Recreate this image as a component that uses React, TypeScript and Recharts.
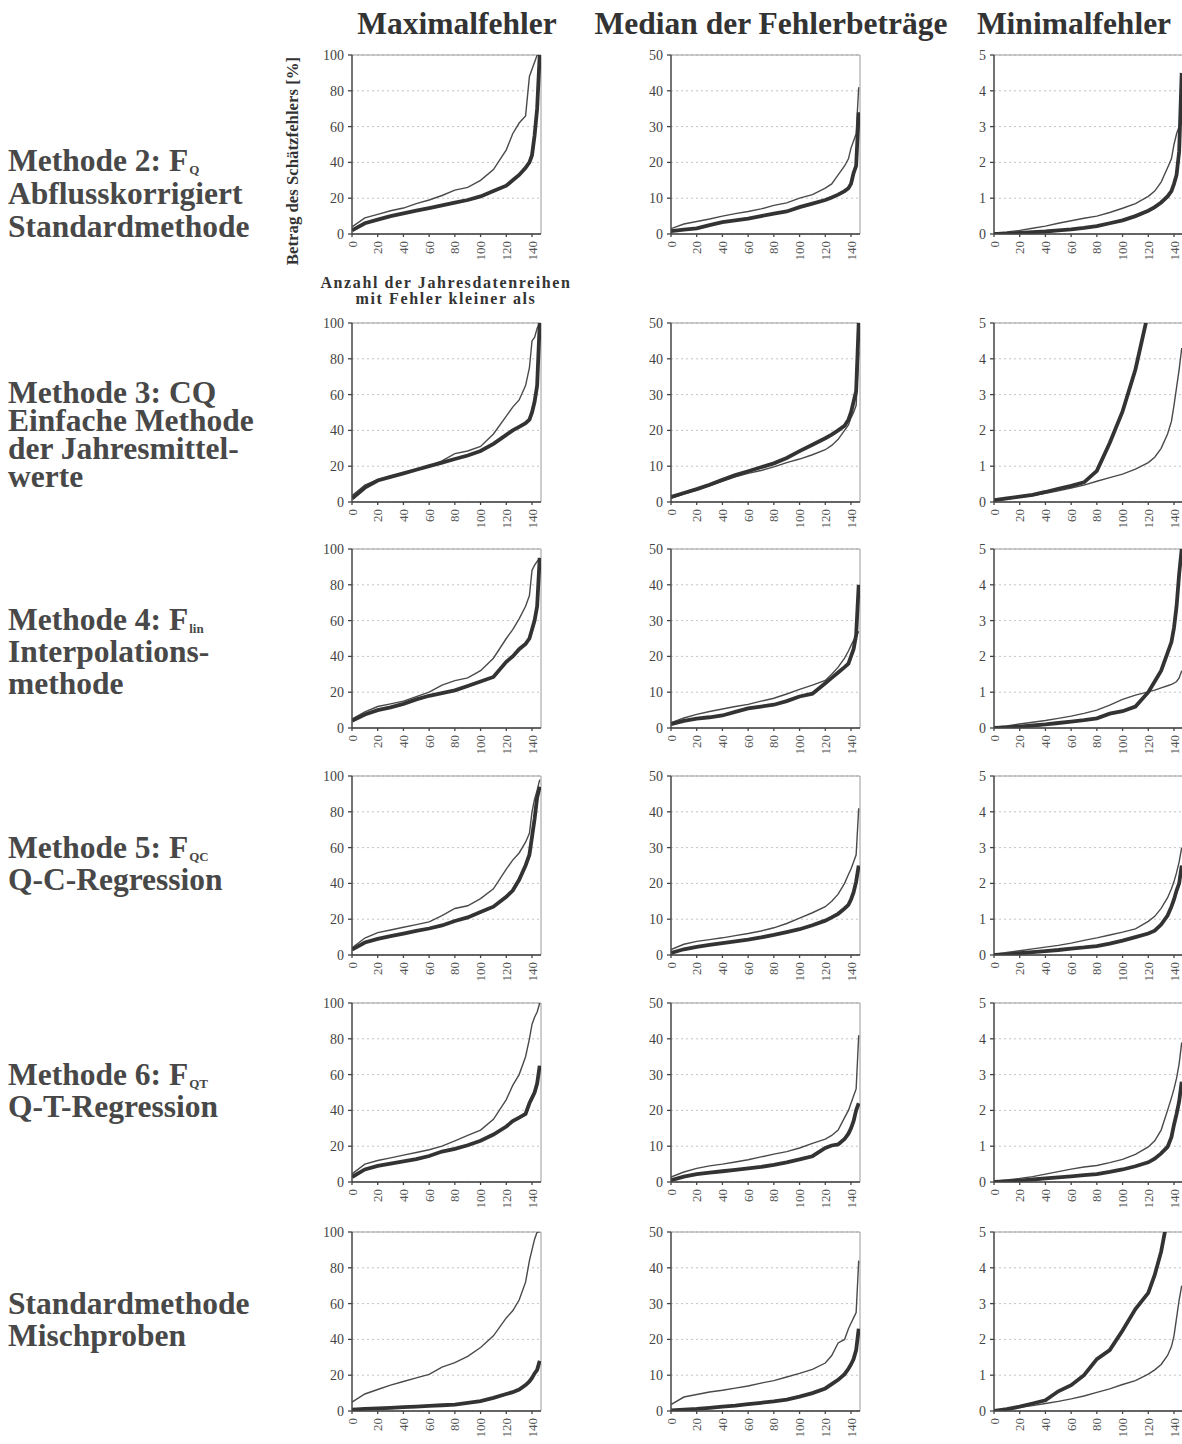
import { LineChart, Line, XAxis, YAxis, CartesianGrid, ReferenceArea } from "recharts";

const serif = "'Liberation Serif', 'Times New Roman', serif";

// x positions (number of annual data series) at which the curves were read
const positions = [0, 10, 20, 30, 40, 50, 60, 70, 80, 90, 100, 110, 120, 125, 130, 135, 138, 140, 142, 144, 146];
const xTicks = [0, 20, 40, 60, 80, 100, 120, 140];

const columnTitles = ["Maximalfehler", "Median der Fehlerbeträge", "Minimalfehler"];
const maxTicks = [0, 20, 40, 60, 80, 100];
const medianTicks = [0, 10, 20, 30, 40, 50];
const minTicks = [0, 1, 2, 3, 4, 5];

// Methode 2: F_Q
const m2MaxThin = [4, 9, 11, 13, 14.5, 17, 19, 21.5, 24.5, 26, 30, 36, 47, 56, 62, 66, 88, 92, 96, 100, 100];
const m2MaxThick = [2, 6, 8, 10, 11.5, 13, 14.5, 16, 17.5, 19, 21, 24, 27, 30, 33, 37, 40, 44, 55, 70, 100];
const m2MedThin = [1.5, 2.8, 3.5, 4.2, 5, 5.7, 6.3, 7, 8, 8.7, 10, 11, 12.8, 14, 16.5, 19, 21, 24, 26, 28, 41];
const m2MedThick = [0.8, 1.2, 1.6, 2.5, 3.3, 3.8, 4.3, 5, 5.7, 6.3, 7.5, 8.5, 9.5, 10.2, 11, 12, 12.8, 14, 17, 19, 34];
const m2MinThin = [0.03, 0.06, 0.1, 0.16, 0.22, 0.3, 0.37, 0.44, 0.5, 0.6, 0.72, 0.85, 1.05, 1.2, 1.45, 1.85, 2.1, 2.5, 2.8, 3.0, 3.1];
const m2MinThick = [0, 0.01, 0.03, 0.05, 0.07, 0.1, 0.13, 0.17, 0.22, 0.3, 0.38, 0.5, 0.65, 0.75, 0.88, 1.05, 1.2, 1.4, 1.65, 2.3, 4.5];

// Methode 3: CQ
const m3MaxThin = [3.6, 9.5, 12.5, 14.5, 16, 18, 20, 23, 27, 28.5, 31, 38, 48, 53, 57, 65, 75, 90, 92, 97, 100];
const m3MaxThick = [2, 8, 12, 14, 16, 18, 20, 22, 24, 26, 28.5, 32.5, 37.5, 40, 42, 44, 46, 50, 56, 65, 100];
const m3MedThin = [1, 2.2, 3.3, 4.5, 5.8, 7, 8, 8.8, 9.8, 11, 12, 13.2, 14.6, 15.8, 17.5, 20, 21.5, 23.5, 25, 27, 42];
const m3MedThick = [1.4, 2.5, 3.6, 4.8, 6.2, 7.5, 8.6, 9.7, 10.8, 12.3, 14.2, 16, 17.8, 18.8, 20, 21.3, 23, 25, 28, 31, 50];
const m3MinThin = [0.03, 0.08, 0.13, 0.18, 0.24, 0.31, 0.39, 0.47, 0.58, 0.68, 0.78, 0.92, 1.1, 1.25, 1.5, 1.9, 2.25, 2.7, 3.2, 3.7, 4.3];
const m3MinThick = [0.05, 0.1, 0.15, 0.2, 0.28, 0.37, 0.45, 0.55, 0.87, 1.65, 2.53, 3.7, 5.3, 6.2, 7.2, 8.2, 8.8, 9.2, 9.6, 10, 10.5];

// Methode 4: F_lin
const m4MaxThin = [5, 9, 12, 13.5, 15, 17.5, 20, 24, 26.5, 28, 32, 39, 50, 55, 61, 68, 74, 88, 91, 93, 95];
const m4MaxThick = [4, 7.5, 10, 11.5, 13.5, 16, 18, 19.5, 21, 23.5, 26, 28.5, 37, 40, 44, 47, 50, 55, 60, 68, 95];
const m4MedThin = [1.5, 2.8, 3.8, 4.6, 5.3, 6, 6.6, 7.5, 8.3, 9.5, 10.8, 12, 13.3, 15, 17, 19.5, 21.5, 23, 24.5, 25.5, 27];
const m4MedThick = [1.1, 2, 2.6, 3, 3.5, 4.5, 5.5, 6, 6.5, 7.5, 8.8, 9.6, 12.5, 14, 15.5, 17, 18, 20, 22, 26, 40];
const m4MinThin = [0.02, 0.06, 0.11, 0.16, 0.21, 0.27, 0.33, 0.41, 0.5, 0.64, 0.8, 0.92, 1.01, 1.06, 1.12, 1.18, 1.22, 1.25, 1.3, 1.4, 1.6];
const m4MinThick = [0, 0.02, 0.04, 0.07, 0.1, 0.14, 0.18, 0.22, 0.27, 0.4, 0.47, 0.6, 1.0, 1.3, 1.6, 2.1, 2.4, 2.8, 3.4, 4.3, 5];

// Methode 5: F_QC
const m5MaxThin = [4, 9.5, 12.5, 14, 15.5, 17, 18.5, 22, 26, 27.5, 31.5, 37, 48, 53, 57, 63, 68, 80, 87, 92, 98];
const m5MaxThick = [3, 7, 9, 10.5, 12, 13.5, 14.8, 16.5, 19, 21, 24, 27, 32.5, 36, 42, 50, 56, 66, 76, 88, 94];
const m5MedThin = [1.5, 3, 3.8, 4.3, 4.8, 5.4, 6, 6.7, 7.6, 8.8, 10.3, 11.8, 13.5, 15, 17, 20, 22.5, 24, 26, 28, 41];
const m5MedThick = [0.6, 1.6, 2.3, 2.8, 3.3, 3.8, 4.3, 4.9, 5.6, 6.4, 7.2, 8.3, 9.6, 10.5, 11.5, 13, 14, 15.5, 17.5, 20.5, 25];
const m5MinThin = [0.02, 0.07, 0.12, 0.17, 0.22, 0.27, 0.33, 0.41, 0.48, 0.56, 0.64, 0.73, 0.94, 1.08, 1.3, 1.6, 1.85, 2.05, 2.3, 2.6, 3.0];
const m5MinThick = [0, 0.02, 0.05, 0.08, 0.11, 0.14, 0.18, 0.21, 0.25, 0.32, 0.4, 0.5, 0.6, 0.68, 0.85, 1.1, 1.35, 1.55, 1.8, 2.0, 2.5];

// Methode 6: F_QT
const m6MaxThin = [4.5, 10, 12, 13.5, 15, 16.5, 18, 20, 23, 26, 29, 35, 46, 54, 60, 70, 80, 88, 92, 95, 100];
const m6MaxThick = [2.8, 7, 9, 10.3, 11.5, 12.8, 14.5, 17, 18.5, 20.5, 23, 26.5, 31, 34, 36, 38, 44, 47, 50, 55, 65];
const m6MedThin = [1.4, 2.8, 3.8, 4.5, 5, 5.6, 6.2, 7, 7.8, 8.5, 9.5, 10.8, 12, 13, 14.5, 18, 20, 22, 24, 26, 41];
const m6MedThick = [0.5, 1.5, 2.2, 2.6, 3, 3.4, 3.8, 4.2, 4.8, 5.5, 6.3, 7.2, 9.5, 10.2, 10.5, 12, 13.5, 15, 17, 20, 22];
const m6MinThin = [0.02, 0.06, 0.1, 0.15, 0.22, 0.29, 0.36, 0.42, 0.46, 0.54, 0.63, 0.77, 0.98, 1.15, 1.45, 2.0, 2.35, 2.6, 2.9, 3.3, 3.9];
const m6MinThick = [0, 0.02, 0.04, 0.07, 0.1, 0.13, 0.16, 0.19, 0.22, 0.28, 0.35, 0.44, 0.55, 0.65, 0.8, 0.98, 1.25, 1.6, 1.9, 2.25, 2.8];

// Standardmethode Mischproben
const mixMaxThin = [5, 9.5, 12, 14.5, 16.5, 18.5, 20.5, 24.5, 27, 30.5, 35.5, 42, 52, 56, 62, 72, 84, 90, 96, 100, 100];
const mixMaxThick = [0.8, 1.2, 1.5, 1.8, 2.2, 2.5, 2.9, 3.2, 3.6, 4.5, 5.5, 7.3, 9.5, 10.5, 12, 14.5, 16.5, 18.5, 21, 23, 28];
const mixMedThin = [1.8, 3.9, 4.6, 5.3, 5.8, 6.4, 7, 7.8, 8.5, 9.5, 10.5, 11.6, 13.4, 15.5, 19, 20, 23, 24.5, 26, 27.5, 42];
const mixMedThick = [0.2, 0.4, 0.6, 0.9, 1.2, 1.5, 1.9, 2.3, 2.7, 3.2, 4, 5, 6.3, 7.5, 8.7, 10.3, 11.8, 13, 14.5, 17, 23];
const mixMinThin = [0, 0.05, 0.1, 0.15, 0.21, 0.27, 0.34, 0.42, 0.52, 0.62, 0.74, 0.85, 1.03, 1.15, 1.3, 1.55, 1.8, 2.1, 2.6, 3.1, 3.5];
const mixMinThick = [0, 0.05, 0.12, 0.21, 0.3, 0.55, 0.72, 1.0, 1.45, 1.7, 2.25, 2.85, 3.3, 3.8, 4.45, 5.4, 5.8, 6, 6.2, 6.4, 6.6];

const rows = [
  { lines: ["Methode 2: F", "Abflusskorrigiert", "Standardmethode"], sub: "Q", lh: 33, series: [[m2MaxThin, m2MaxThick], [m2MedThin, m2MedThick], [m2MinThin, m2MinThick]] },
  { lines: ["Methode 3: CQ", "Einfache Methode", "der Jahresmittel-", "werte"], sub: "", lh: 28, series: [[m3MaxThin, m3MaxThick], [m3MedThin, m3MedThick], [m3MinThin, m3MinThick]] },
  { lines: ["Methode 4:  F", "Interpolations-", "methode"], sub: "lin", lh: 32, series: [[m4MaxThin, m4MaxThick], [m4MedThin, m4MedThick], [m4MinThin, m4MinThick]] },
  { lines: ["Methode 5:  F", "Q-C-Regression"], sub: "QC", lh: 32, series: [[m5MaxThin, m5MaxThick], [m5MedThin, m5MedThick], [m5MinThin, m5MinThick]] },
  { lines: ["Methode 6:  F", "Q-T-Regression"], sub: "QT", lh: 32, series: [[m6MaxThin, m6MaxThick], [m6MedThin, m6MedThick], [m6MinThin, m6MinThick]] },
  { lines: ["Standardmethode", "Mischproben"], sub: "", lh: 32, series: [[mixMaxThin, mixMaxThick], [mixMedThin, mixMedThick], [mixMinThin, mixMinThick]] },
];

const yTicksByCol = [maxTicks, medianTicks, minTicks];

// layout
const plotLeft = [352, 671, 994];
const plotTop = [55, 323, 549, 776, 1003, 1232];
const labelCenter = [160, 393, 620, 848, 1075, 1304];
const titleCenter = [457, 771, 1074];
const PW = 189;
const PH = 179;
const YW = 42;
const MT = 12;
const XH = 36;
const X_MAX = 147;

const XTick = (props: any) => {
  const { x, y, payload } = props;
  return (
    <text transform={`translate(${x},${y}) rotate(-90)`} textAnchor="end" dominantBaseline="central" fontSize={13} fill="#555" fontFamily={serif}>
      {payload.value}
    </text>
  );
};

const SmallChart = ({ thin, thick, ticks, left, top }: any) => {
  const data = positions.map((p, i) => ({ x: p, thin: thin[i], thick: thick[i] }));
  const yMax = ticks[ticks.length - 1];
  return (
    <div style={{ position: "absolute", left: left - YW, top: top - MT }}>
      <LineChart width={YW + PW + 2} height={MT + PH + XH} data={data} margin={{ top: MT, right: 2, bottom: 0, left: 0 }}>
        <CartesianGrid horizontal vertical={false} stroke="#c4c4c4" strokeDasharray="2 3" />
        <ReferenceArea x1={0} x2={X_MAX} y1={0} y2={yMax} fill="none" fillOpacity={0} stroke="#9a9a9a" strokeWidth={1} />
        <XAxis
          dataKey="x"
          type="number"
          domain={[0, X_MAX]}
          ticks={xTicks}
          interval={0}
          height={XH}
          tick={<XTick />}
          tickSize={3}
          tickMargin={4}
          stroke="#444"
          strokeWidth={1.3}
          allowDataOverflow
        />
        <YAxis
          type="number"
          domain={[0, yMax]}
          ticks={ticks}
          interval={0}
          width={YW}
          tickSize={4}
          tickMargin={4}
          tick={{ fontSize: 14, fill: "#444", fontFamily: serif }}
          stroke="#444"
          strokeWidth={1.3}
          allowDataOverflow
        />
        <Line dataKey="thin" type="linear" stroke="#4a4a4a" strokeWidth={1.4} dot={false} isAnimationActive={false} />
        <Line dataKey="thick" type="linear" stroke="#333" strokeWidth={3.8} dot={false} isAnimationActive={false} />
      </LineChart>
    </div>
  );
};

const App = () => {
  return (
    <div style={{ position: "absolute", left: 0, top: 0, width: 1182, height: 1444, overflow: "hidden", background: "#fff", fontFamily: serif }}>
      {columnTitles.map((t, c) => (
        <div key={t} style={{ position: "absolute", left: titleCenter[c] - 220, width: 440, top: 5, textAlign: "center", fontSize: 31.5, lineHeight: "38px", fontWeight: "bold", color: "#333", whiteSpace: "nowrap" }}>
          {t}
        </div>
      ))}

      {rows.map((row, r) => (
        <div key={r} style={{ position: "absolute", left: 8, top: labelCenter[r] - row.lh / 2, fontSize: 31.5, lineHeight: `${row.lh}px`, fontWeight: "bold", color: "#484848", whiteSpace: "nowrap" }}>
          {row.lines.map((line, i) => (
            <div key={i} style={{ height: row.lh }}>
              {line}
              {i === 0 && row.sub ? (
                <span style={{ fontSize: 13, position: "relative", top: 3, lineHeight: 0, marginLeft: 1 }}>{row.sub}</span>
              ) : null}
            </div>
          ))}
        </div>
      ))}

      <div style={{ position: "absolute", left: 293, top: 161, transform: "translate(-50%, -50%) rotate(-90deg)", fontSize: 16.8, fontWeight: "bold", color: "#333", whiteSpace: "nowrap" }}>
        Betrag des Schätzfehlers [%]
      </div>
      <div style={{ position: "absolute", left: 246, width: 400, top: 275, textAlign: "center", fontSize: 16, lineHeight: "16px", letterSpacing: 1.6, fontWeight: "bold", color: "#333", whiteSpace: "nowrap" }}>
        <div>Anzahl der Jahresdatenreihen</div>
        <div>mit Fehler kleiner als</div>
      </div>

      {rows.map((row, r) =>
        row.series.map(([thin, thick], c) => (
          <SmallChart key={`${r}-${c}`} thin={thin} thick={thick} ticks={yTicksByCol[c]} left={plotLeft[c]} top={plotTop[r]} />
        ))
      )}
    </div>
  );
};

export default App;
